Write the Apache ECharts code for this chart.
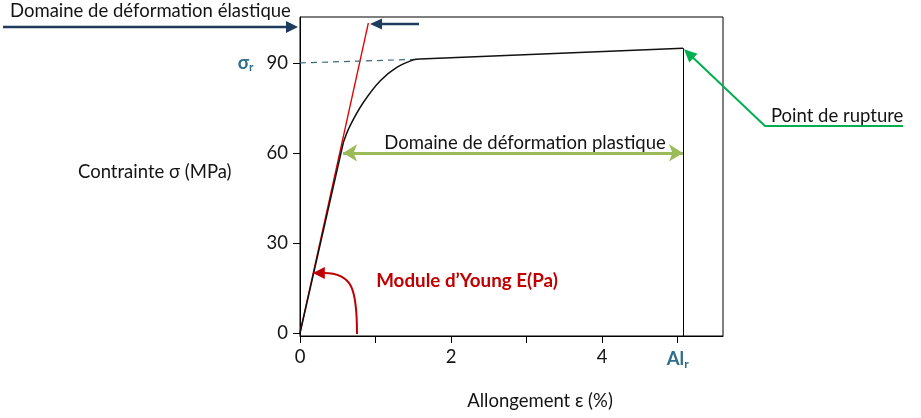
<!DOCTYPE html>
<html>
<head>
<meta charset="utf-8">
<script src="https://cdn.jsdelivr.net/npm/echarts@6/dist/echarts.min.js"></script>
<style>
html,body{margin:0;padding:0;background:#fff;}
#main{width:921px;height:418px;}
</style>
</head>
<body>
<div id="main"></div>
<script>
// ---- data ----
var xTicks = [0, 1, 2, 3, 4, 5];
var xLabels = [0, 2, 4, 5];
var yTicks = [0, 30, 60, 90];
var linearX = [0, 0.573];
var linearY = [0, 63.4];
var curveX = [0.573, 0.662, 0.838, 1.060, 1.281, 1.501, 1.589];
var curveY = [63.4, 69.0, 76.8, 84.0, 88.5, 91.0, 91.3];
var hardenX = [1.589, 5.07];
var hardenY = [91.3, 94.9];
var youngX = [0, 0.905];
var youngY = [0, 103.3];
var sigmaRX = [0, 1.55];
var sigmaRY = [90, 91.2];
var ruptureX = 5.07, ruptureY = 94.9;
var plasticStartX = 0.57, plasticY = 60;

var FONT = 'Lato';
var TXT = '#141414';
var TEAL = '#2f6f8c';
var FS = 18.5;

function pairs(xs, ys){ return xs.map(function(x,i){ return [x, ys[i]]; }); }

var chart = echarts.init(document.getElementById('main'), null, {renderer:'canvas'});
var option = {
  animation: false,
  backgroundColor: '#fff',
  textStyle: {fontFamily: FONT},
  grid: {left: 300, right: 198, top: 17, bottom: 82, show: true, borderColor: '#000', borderWidth: 1, containLabel: false, outerBoundsMode: 'none'},
  xAxis: {
    type: 'value', min: 0, max: 5.6,
    axisLine: {show: true, onZero: false, lineStyle: {color: '#000', width: 1}},
    axisTick: {show: true, customValues: xTicks, length: 7, lineStyle: {color: '#000'}},
    axisLabel: {customValues: xLabels, margin: 12, color: TXT, fontSize: 18.5, fontFamily: FONT,
      formatter: function(v){ return v === 5 ? '{b|Al}{s|r}' : String(v); },
      rich: {b: {fontWeight: 'bold', color: TEAL, fontSize: 18.5, fontFamily: FONT}, s: {fontWeight: 'bold', color: TEAL, fontSize: 12, fontFamily: FONT, padding: [10,0,0,0]}}
    },
    splitLine: {show: false},
    name: 'Allongement ε (%)', nameLocation: 'middle', nameGap: 56,
    nameTextStyle: {color: TXT, fontSize: FS, fontFamily: FONT, padding: [0,0,0,57]}
  },
  yAxis: {
    type: 'value', min: -1, max: 105.3,
    axisLine: {show: true, onZero: false, lineStyle: {color: '#000', width: 1}},
    axisTick: {show: true, customValues: yTicks, length: 7, lineStyle: {color: '#000'}},
    axisLabel: {customValues: yTicks, margin: 12, color: TXT, fontSize: 18.5, fontFamily: FONT,
      formatter: function(v){ return v === 90 ? '{s|σ}{r|r}{g|}90' : String(v); },
      rich: {s: {fontWeight: 'bold', color: TEAL, fontSize: 18.5, fontFamily: FONT}, r: {fontWeight: 'bold', color: TEAL, fontSize: 12, fontFamily: FONT, padding: [8,0,0,0]}, g: {width: 13}}
    },
    splitLine: {show: false}
  },
  series: [
    {type: 'line', data: pairs(youngX, youngY), showSymbol: false, lineStyle: {color: '#e00000', width: 1.3}, z: 2},
    {type: 'line', data: pairs(sigmaRX, sigmaRY), showSymbol: false, lineStyle: {color: '#3e6777', width: 1.2, type: [6,5]}, z: 2},
    {type: 'line', data: pairs(linearX, linearY), showSymbol: false, lineStyle: {color: '#111', width: 1.5}, z: 3},
    {type: 'line', data: pairs(curveX, curveY), showSymbol: false, smooth: 0.4, lineStyle: {color: '#111', width: 1.5}, z: 3},
    {type: 'line', data: pairs(hardenX, hardenY), showSymbol: false, lineStyle: {color: '#111', width: 1.5}, z: 3,
      markLine: {silent: true, symbol: ['none','none'], label: {show: false},
        lineStyle: {color: '#000', width: 1, type: 'solid'},
        data: [[{coord: [ruptureX, ruptureY]}, {coord: [ruptureX, -1]}]]}},
    {type: 'line', data: [], markLine: {silent: true, symbol: ['arrow','arrow'], symbolSize: [13, 14], label: {show: false},
        lineStyle: {color: '#9bbb59', width: 3, type: 'solid'},
        data: [[{coord: [plasticStartX, plasticY]}, {coord: [ruptureX, plasticY]}]]}}
  ]
};
chart.setOption(option);

var tip = chart.convertToPixel({gridIndex: 0}, [ruptureX, ruptureY]);
var yTip = chart.convertToPixel({gridIndex: 0}, [0.17, 20]);
var plast = chart.convertToPixel({gridIndex: 0}, [(plasticStartX + ruptureX) / 2, plasticY]);

function arrowHead(tx, ty, dx, dy, len, half, color){
  var l = Math.sqrt(dx*dx+dy*dy); dx/=l; dy/=l;
  var bx = tx - dx*len, by = ty - dy*len;
  return {type:'polygon', shape:{points:[[tx,ty],[bx - dy*half, by + dx*half],[bx + dy*half, by - dx*half]]}, style:{fill: color}, z: 10};
}

var NAVY = '#1f3b5e';
var GREEN = '#00b050';
var RED = '#c00000';
var rx0 = 765, ry0 = 126;
var dxr = tip[0] - rx0, dyr = tip[1] - ry0;
var lr = Math.sqrt(dxr*dxr + dyr*dyr);
var graphics = [
  {type:'text', left: 10, top: 2, style:{text:'Domaine de déformation élastique', fill: TXT, font: FS + 'px ' + FONT}, z: 10},
  {type:'line', shape:{x1: 3, y1: 27, x2: 288, y2: 27}, style:{stroke: NAVY, lineWidth: 2.5}, z: 10},
  arrowHead(298, 27, 1, 0, 12, 6, NAVY),
  {type:'line', shape:{x1: 419, y1: 24, x2: 380, y2: 24}, style:{stroke: NAVY, lineWidth: 2.5}, z: 10},
  arrowHead(370, 24, -1, 0, 12, 5.5, NAVY),
  {type:'text', x: plast[0] + 12, y: plast[1] - 10, style:{text:'Domaine de déformation plastique', fill: TXT, font: FS + 'px ' + FONT, textAlign: 'center', textVerticalAlign: 'middle'}, z: 10},
  {type:'text', x: 771, y: 116, style:{text:'Point de rupture', fill: TXT, font: FS + 'px ' + FONT, textAlign: 'left', textVerticalAlign: 'middle'}, z: 10},
  {type:'polyline', shape:{points:[[903, ry0],[rx0, ry0],[tip[0] - dxr/lr*10, tip[1] - dyr/lr*10]]}, style:{stroke: GREEN, lineWidth: 2, fill: null}, z: 10},
  arrowHead(tip[0]+1, tip[1]+1, dxr, dyr, 13, 6, GREEN),
  {type:'bezierCurve', shape:{x1: 357, y1: 334, cpx1: 357, cpy1: 288, cpx2: 352, cpy2: 273, x2: yTip[0] + 11, y2: yTip[1]}, style:{stroke: RED, lineWidth: 2, fill: null}, z: 10},
  arrowHead(yTip[0], yTip[1], -1, 0, 12, 6, RED),
  {type:'text', x: 467, y: 281, style:{text:'Module d’Young E(Pa)', fill: RED, font: 'bold 18.8px ' + FONT, textAlign: 'center', textVerticalAlign: 'middle'}, z: 10},
  {type:'text', x: 78, y: 172, style:{text:'Contrainte σ (MPa)', fill: TXT, font: FS + 'px ' + FONT, textAlign: 'left', textVerticalAlign: 'middle'}, z: 10}
];
chart.setOption({graphic: graphics});
</script>
</body>
</html>
